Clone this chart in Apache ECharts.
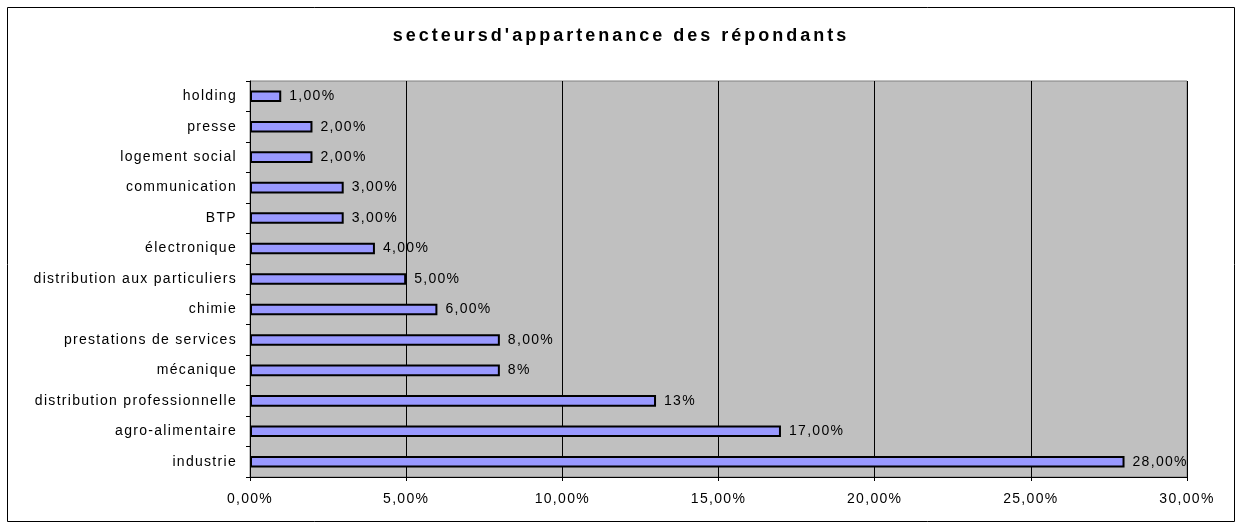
<!DOCTYPE html>
<html>
<head>
<meta charset="utf-8">
<script src="https://cdn.jsdelivr.net/npm/echarts@6/dist/echarts.min.js"></script>
<style>html,body{margin:0;padding:0;background:#fff}#c{width:1242px;height:529px}</style>
</head>
<body>
<div id="c"></div>
<script>
const categories = ["industrie","agro-alimentaire","distribution professionnelle","mécanique","prestations de services","chimie","distribution aux particuliers","électronique","BTP","communication","logement social","presse","holding"];
const values = [28,17,13,8,8,6,5,4,3,3,2,2,1];
const valueLabels = ["28,00%","17,00%","13%","8%","8,00%","6,00%","5,00%","4,00%","3,00%","3,00%","2,00%","2,00%","1,00%"];
const titleText = "secteursd'appartenance des répondants";

// letter spacing like the original (canvas letterSpacing, applied to drawing and measuring)
(function(){
  const P = CanvasRenderingContext2D.prototype;
  function ls(ctx){ try{ ctx.letterSpacing = /bold|700/.test(ctx.font) ? '3px' : '1.3px'; }catch(e){} }
  ['fillText','strokeText','measureText'].forEach(function(n){
    const o = P[n];
    P[n] = function(){ ls(this); return o.apply(this, arguments); };
  });
})();

const FONT = "'Liberation Sans', Arial, sans-serif";
const chart = echarts.init(document.getElementById('c'), null, {renderer:'canvas'});
chart.setOption({
  animation:false,
  backgroundColor:'#ffffff',
  title:{text:titleText,left:'center',top:21,textStyle:{fontFamily:FONT,fontSize:18,fontWeight:'bold',color:'#000'}},
  graphic:[{type:'rect',shape:{x:7.5,y:7.5,width:1227,height:514},style:{fill:'none',stroke:'#000',lineWidth:1}}],
  grid:{left:250,right:55,top:81,bottom:52,show:true,backgroundColor:'#c0c0c0',borderColor:'#808080',borderWidth:1},
  xAxis:{type:'value',min:0,max:30,interval:5,
    axisLine:{show:true,lineStyle:{color:'#000',width:1}},
    axisTick:{show:true,length:4,lineStyle:{color:'#000'}},
    splitLine:{show:true,lineStyle:{color:'#000',width:1}},
    axisLabel:{fontFamily:FONT,fontSize:14,color:'#000',margin:14,formatter:v=>v.toFixed(2).replace('.',',')+'%'}},
  yAxis:{type:'category',data:categories,
    axisLine:{show:true,lineStyle:{color:'#000',width:1}},
    axisTick:{show:true,length:4,lineStyle:{color:'#000'}},
    axisLabel:{fontFamily:FONT,fontSize:14,color:'#000',margin:13}},
  series:[{type:'bar',data:values,barWidth:'38%',
    itemStyle:{color:'#9999ff',borderColor:'#000',borderWidth:2},
    label:{show:true,position:'right',distance:8,fontFamily:FONT,fontSize:14,color:'#000',
      formatter:p=>valueLabels[p.dataIndex]}}]
});
</script>
</body>
</html>
